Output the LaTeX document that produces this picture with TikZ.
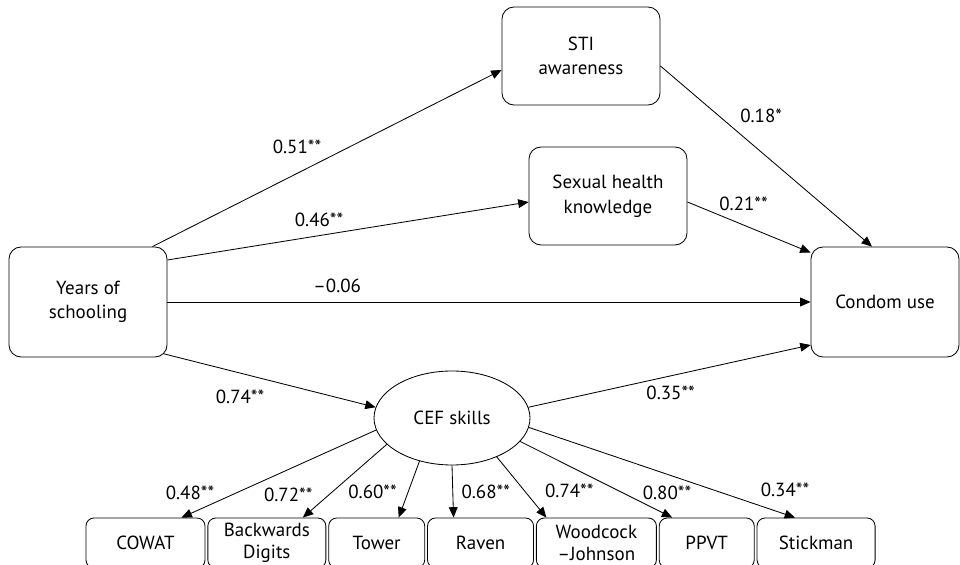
\documentclass[tikz,border=0pt]{standalone}
\usepackage{fontspec}
\setmainfont{PT Sans}
\usetikzlibrary{shapes,arrows.meta,positioning,calc}

\begin{document}
\begin{tikzpicture}[
    var/.style={rectangle, draw, rounded corners=0.3cm,
                minimum width=3.95cm, minimum height=2.45cm,
                align=center, font=\fontsize{13.5}{17.5}\selectfont, line width=0.6pt},
    latent/.style={ellipse, draw, minimum width=3.9cm, minimum height=2.35cm,
                   align=center, font=\fontsize{13.5}{17.5}\selectfont, line width=0.6pt},
    task/.style={rectangle, draw, rounded corners=0.2cm, minimum height=1.25cm,
                 inner sep=1pt, align=center, font=\fontsize{13.5}{15.5}\selectfont, line width=0.6pt},
    coef/.style={font=\fontsize{13.5}{15}\selectfont, inner sep=1pt},
    arrow/.style={-{Triangle[length=2.6mm,width=2.2mm]}, line width=0.6pt}
]
    \useasboundingbox (0,0) rectangle (24,14.125);

    % Observed variables
    \node[var, minimum height=2.75cm] (years) at (2.2,6.575) {Years of\\schooling};
    \node[var] (sti) at (14.525,12.725) {STI\\awareness};
    \node[var] (sexual) at (15.2,9.225) {Sexual health\\knowledge};
    \node[var, minimum width=3.7cm, minimum height=2.75cm] (condom) at (22.125,6.575) {Condom use};

    % Latent factor
    \node[latent] (cef) at (11.3,3.675) {CEF skills};

    % Indicator tasks
    \node[task, minimum width=2.975cm] (cowat) at (3.6375,0.55) {COWAT};
    \node[task, minimum width=2.95cm, right=0.05cm of cowat] (backwards) {Backwards\\Digits};
    \node[task, minimum width=2.4cm, right=0.05cm of backwards] (tower) {Tower};
    \node[task, minimum width=2.65cm, right=0.05cm of tower] (raven) {Raven};
    \node[task, minimum width=3.0cm, right=0.05cm of raven] (woodcock) {Woodcock\\\textendash Johnson};
    \node[task, minimum width=2.375cm, right=0.05cm of woodcock] (ppvt) {PPVT};
    \node[task, minimum width=2.95cm, right=0.05cm of ppvt] (stickman) {Stickman};

    % Paths from schooling
    \draw[arrow] ([xshift=-0.375cm]years.north east) --
        node[coef, pos=0.414, yshift=0.67cm] {0.51**} ([yshift=-0.35cm]sti.west);
    \draw[arrow] ([yshift=1.05cm]years.east) --
        node[coef, pos=0.42, yshift=0.39cm] {0.46**} ([yshift=-0.15cm]sexual.west);
    \draw[arrow] (years.east) --
        node[coef, pos=0.264, yshift=0.4cm] {\textendash0.06} (condom.west);
    \draw[arrow] ([shift={(-0.09cm,0.09cm)}]years.south east) --
        node[coef, pos=0.36, yshift=-0.6cm] {0.74**} (cef.172);

    % Paths to condom use
    \draw[arrow] ([yshift=-0.25cm]sti.east) --
        node[coef, pos=0.476, yshift=0.9cm] {0.18*} ([xshift=-0.325cm]condom.north);
    \draw[arrow] ([yshift=-0.15cm]sexual.east) --
        node[coef, pos=0.456, yshift=0.525cm] {0.21**} ([yshift=-0.15cm]condom.north west);
    \draw[arrow] (cef.8) --
        node[coef, pos=0.504, yshift=-0.43cm] {0.35**} ([yshift=-1.075cm]condom.west);

    % Factor loadings
    \draw[arrow] (cef.189) --
        node[coef, pos=0.716, xshift=-1.17cm] {0.48**} ([xshift=0.9cm]cowat.north);
    \draw[arrow] (cef.202) --
        node[coef, pos=0.685, xshift=-1.025cm] {0.72**} ([xshift=0.9cm]backwards.north);
    \draw[arrow] (cef.233) --
        node[coef, pos=0.545, xshift=-0.89cm] {0.60**} ([xshift=0.55cm]tower.north);
    \draw[arrow] (cef.270) --
        node[coef, pos=0.5, xshift=0.825cm] {0.68**} ([xshift=-0.675cm]raven.north);
    \draw[arrow] (cef.319) --
        node[coef, pos=0.567, xshift=1.11cm] {0.74**} ([xshift=-1.25cm]woodcock.north);
    \draw[arrow] (cef.341) --
        node[coef, pos=0.671, xshift=1.12cm] {0.80**} ([xshift=-0.8625cm]ppvt.north);
    \draw[arrow] (cef.353) --
        node[coef, pos=0.962, yshift=0.61cm] {0.34**} ([xshift=-0.525cm]stickman.north);
\end{tikzpicture}
\end{document}
